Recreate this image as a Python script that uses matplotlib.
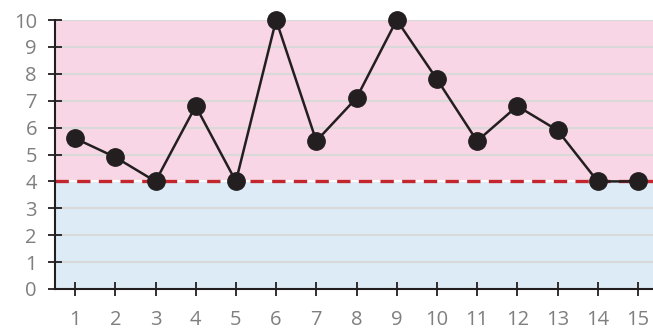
import matplotlib
matplotlib.use("Agg")
import matplotlib.pyplot as plt

# data
x_vals = list(range(1, 16))
y_vals = [5.6, 4.9, 4.0, 6.8, 4.0, 10.0, 5.5, 7.1, 10.0, 7.8, 5.5, 6.8, 5.9, 4.0, 4.0]
threshold = 4.0
y_max = 10

PINK = "#f9d6e5"
BLUE = "#ddebf6"
GRID = "#d9d9d9"
RED = "#c4262e"
DARK = "#231f20"
LABEL = "#7f7f7f"

plt.rcParams["font.family"] = ["Open Sans", "DejaVu Sans"]

fig = plt.figure(figsize=(6.53, 3.29), dpi=100)
ax = fig.add_axes([55 / 653, 1 - 289 / 329, 603 / 653, 269 / 329])

ax.set_xlim(0.5, 15.5)
ax.set_ylim(0, y_max)

ax.axhspan(threshold, y_max, color=PINK, zorder=0, lw=0)
ax.axhspan(0, threshold, color=BLUE, zorder=0, lw=0)
for yv in range(1, y_max + 1):
    ax.axhline(yv, color=GRID if yv != threshold else "white", lw=1.5, zorder=1)

ax.axhline(threshold, color=RED, lw=2.4, ls=(0, (4, 2.5)), zorder=2)

ax.plot(x_vals, y_vals, color=DARK, lw=1.8, marker="o", markersize=12.5,
        markerfacecolor=DARK, markeredgecolor=DARK, zorder=3, clip_on=False)

ax.set_xticks(x_vals)
ax.set_yticks(range(0, y_max + 1))
ax.tick_params(direction="inout", length=10, width=1.3, color=DARK,
               labelcolor=LABEL, labelsize=14.5)
ax.tick_params(axis="x", pad=10)
ax.tick_params(axis="y", pad=8)

for side in ("top", "right"):
    ax.spines[side].set_visible(False)
for side in ("left", "bottom"):
    ax.spines[side].set_color(DARK)
    ax.spines[side].set_linewidth(1.5)
    ax.spines[side].set_zorder(4)

fig.savefig("out.png", dpi=100, facecolor="white")
